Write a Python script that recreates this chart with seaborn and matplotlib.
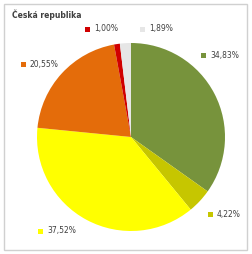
import matplotlib
matplotlib.use("Agg")
import matplotlib.pyplot as plt
import seaborn as sns
from matplotlib.patches import Rectangle

categories = ["A", "B", "C", "D", "E", "F"]
values = [34.83, 4.22, 37.52, 20.55, 1.00, 1.89]
colors = ["#77933C", "#C6C600", "#FFFF00", "#E46C0A", "#D00000", "#E6E6E6"]
title = "Česká republika"

sns.set_theme(style="white")
plt.rcParams['font.family'] = ['DejaVu Sans']

W, H = 252, 254
fig = plt.figure(figsize=(W / 100, H / 100), dpi=100)
fig.patch.set_facecolor("white")

# frame
fig.patches.append(Rectangle((4 / W, 4 / H), 243 / W, 246 / H, transform=fig.transFigure,
                             fill=False, edgecolor="#D0D0D0", linewidth=1.0))

cx, cy, r = 131, 137, 94
ax = fig.add_axes([(cx - r) / W, (H - cy - r) / H, 2 * r / W, 2 * r / H])
ax.pie(values, colors=colors, startangle=90, counterclock=False,
       wedgeprops=dict(edgecolor="none", linewidth=0))
ax.set_xlim(-1, 1)
ax.set_ylim(-1, 1)
ax.set_aspect("equal")
ax.axis("off")

fig.text(12 / W, 1 - 15 / H, title, fontsize=5.5, fontweight="bold",
         color="#404040", ha="left", va="center")

# label layout (marker x, y in pixels)
label_pos = [(203, 55), (210, 214), (40, 231), (23, 64), (87, 29), (142, 29)]
for v, c, (mx, my) in zip(values, colors, label_pos):
    fig.patches.append(Rectangle(((mx - 2.5) / W, 1 - (my + 2.5) / H), 5 / W, 5 / H,
                                 transform=fig.transFigure, facecolor=c,
                                 edgecolor="none"))
    txt = f"{v:.2f}".replace(".", ",") + "%"
    fig.text((mx + 7) / W, 1 - my / H, txt, fontsize=5.5, color="#404040",
             ha="left", va="center")

fig.savefig("out.png", dpi=100, facecolor="white")
